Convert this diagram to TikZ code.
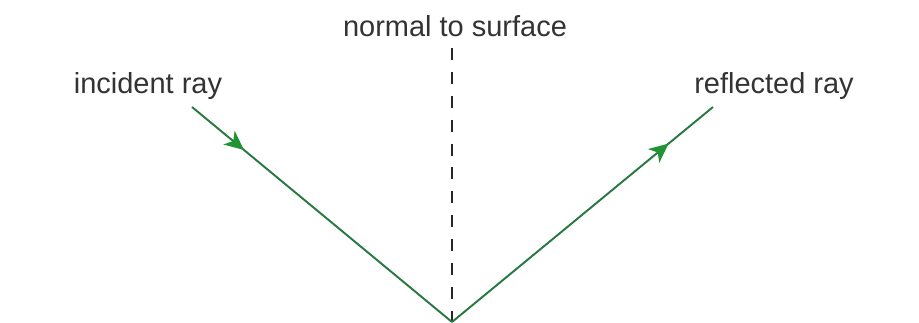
\documentclass[tikz,border=0pt]{standalone}
\usepackage{fontspec}
\setmainfont{Liberation Sans}
\usepackage{tikz}
\usetikzlibrary{arrows.meta, decorations.markings, positioning}

\definecolor{raygreen}{RGB}{40,120,65}

\begin{document}
\begin{tikzpicture}[x=0.02cm, y=-0.02cm]
        \tikzstyle{label} = [font=\fontsize{16.5}{19}\selectfont, text=black!80, inner sep=0pt]
        \tikzstyle{ray} = [draw=raygreen, line width=1.1pt]
        \tikzstyle{normal} = [draw=black!85, line width=1.1pt, dash pattern=on 6.8pt off 6.8pt]
        \tikzset{arrowat/.style={postaction={decorate}, decoration={markings,
            mark=at position #1 with {\arrow[raygreen!80!green]{Stealth[length=11pt, width=10pt, inset=3pt]}}}}}
        \useasboundingbox (0,0) rectangle (919,322);

        \coordinate (hit) at (452,322);
        \coordinate (inStart) at (192,107);
        \coordinate (outEnd) at (713,107);
        \coordinate (normTop) at (452,48);

        \node [label] (normLabel) at (455,26) {normal to surface};
        \node [label] (inLabel) at (148,86) {incident ray};
        \node [label] (outLabel) at (774,86) {reflected ray};

        \path [normal] (normTop) -- (hit);
        \path [ray, arrowat=0.2] (inStart) -- (hit);
        \path [ray, arrowat=0.83] (hit) -- (outEnd);
    \end{tikzpicture}
\end{document}
